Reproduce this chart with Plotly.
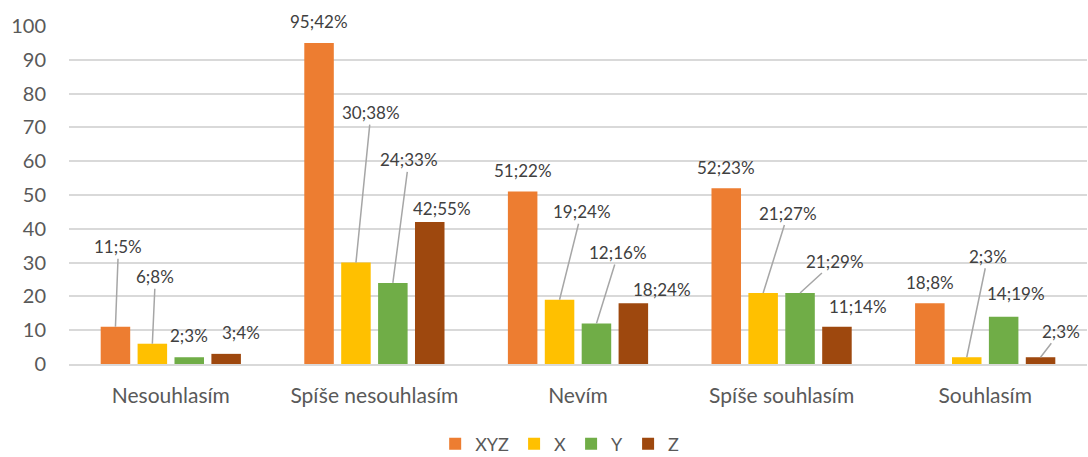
import plotly.graph_objects as go

# Answer categories and per-series counts
categories = ["Nesouhlasím", "Spíše nesouhlasím", "Nevím", "Spíše souhlasím", "Souhlasím"]
series_names = ["XYZ", "X", "Y", "Z"]

xyz_counts = [11, 95, 51, 52, 18]
x_counts = [6, 30, 19, 21, 2]
y_counts = [2, 24, 12, 21, 14]
z_counts = [3, 42, 18, 11, 2]

# Share of each answer within its series (%), as printed in the labels
xyz_pct = [5, 42, 22, 23, 8]
x_pct = [8, 38, 24, 27, 3]
y_pct = [3, 33, 16, 29, 19]
z_pct = [4, 55, 24, 14, 3]

y_ticks = [0, 10, 20, 30, 40, 50, 60, 70, 80, 90, 100]

counts = [xyz_counts, x_counts, y_counts, z_counts]
pcts = [xyz_pct, x_pct, y_pct, z_pct]
colors = ["#ED7D31", "#FFC000", "#70AD47", "#9E480E"]

FONT = "Lato, Carlito, Calibri, sans-serif"
BARGAP = 0.275
GROUPGAP = 0.2

# Label placement in pixels relative to the top of each bar: (dx, dy, leader line?)
# indexed [series][category]
label_place = [
    [(3, -80, True), (0, -21, False), (0, -21, False), (0, -21, False), (0, -21, False)],
    [(3, -67, True), (15, -150, True), (22, -88, True), (25, -80, True), (21, -101, True)],
    [(0, -22, False), (16, -123, True), (22, -71, True), (35, -32, True), (12, -23, False)],
    [(15, -21, False), (12, -14, False), (29, -14, False), (21, -20, False), (20, -26, True)],
]

fig = go.Figure()
for name, vals, col in zip(series_names, counts, colors):
    fig.add_trace(go.Bar(x=categories, y=vals, name=name, marker_color=col,
                         marker_line_width=0))

n = len(series_names)
slot = (1 - BARGAP) / n
annotations = []
for s in range(n):
    off = (s - (n - 1) / 2) * slot
    for c in range(len(categories)):
        v = counts[s][c]
        text = f"{v};{pcts[s][c]}%"
        dx, dy, line = label_place[s][c]
        common = dict(x=c + off, y=v, xref="x", yref="y", text=text,
                      font=dict(family=FONT, size=17, color="#404040"))
        if line:
            annotations.append(dict(**common, showarrow=True, arrowhead=0,
                                    arrowwidth=1.5, arrowcolor="#A6A6A6",
                                    ax=dx, ay=dy, standoff=0, startstandoff=0))
        else:
            annotations.append(dict(**common, showarrow=False,
                                    xshift=dx, yshift=-dy))

fig.update_layout(
    width=1088, height=457,
    margin=dict(l=69, r=1, t=26, b=93, autoexpand=False),
    paper_bgcolor="white", plot_bgcolor="white",
    barmode="group", bargap=BARGAP, bargroupgap=GROUPGAP,
    font=dict(family=FONT, color="#595959"),
    annotations=annotations,
    showlegend=True,
    legend=dict(orientation="h", x=0.482, xanchor="center", y=-0.237, yanchor="middle",
                font=dict(family=FONT, size=18, color="#595959"),
                itemwidth=30, traceorder="normal"),
)
fig.update_xaxes(showline=True, linecolor="#D9D9D9", linewidth=1.5,
                 ticks="", tickfont=dict(family=FONT, size=21, color="#595959"),
                 ticklabelstandoff=12, showgrid=False, automargin=False)
fig.update_yaxes(range=[0, 100], tickvals=y_ticks, showgrid=True,
                 gridcolor="#D9D9D9", gridwidth=1.5, zeroline=False,
                 showline=False, ticks="", automargin=False,
                 tickfont=dict(family=FONT, size=20, color="#595959"),
                 ticklabelstandoff=22)

fig.write_html("out.html")
